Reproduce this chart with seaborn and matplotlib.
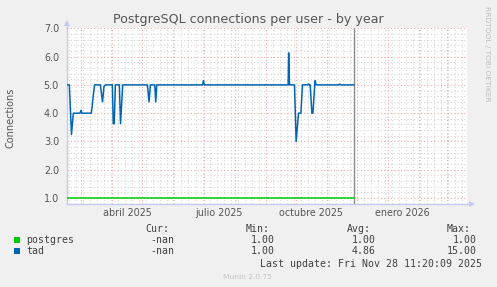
import matplotlib
matplotlib.use("Agg")
import matplotlib.pyplot as plt
import matplotlib.dates as mdates
import matplotlib.transforms as mtransforms
from matplotlib.patches import Rectangle
from matplotlib.ticker import MultipleLocator, FixedLocator, NullFormatter
import seaborn as sns
import pandas as pd

# ---------------- data ----------------
tad_dates = [
    "2025-02-14 07:00", "2025-02-16 22:00", "2025-02-19 02:00", "2025-02-20 22:00",
    "2025-02-27 14:00", "2025-02-28 14:00", "2025-03-01 14:00", "2025-03-10 22:00",
    "2025-03-14 02:00", "2025-03-19 22:00", "2025-03-22 02:00", "2025-03-23 14:00",
    "2025-03-25 02:00", "2025-03-31 22:00", "2025-04-01 19:00", "2025-04-02 19:00",
    "2025-04-03 22:00", "2025-04-07 22:00", "2025-04-09 02:00", "2025-04-11 07:00",
    "2025-05-05 22:00", "2025-05-07 14:00", "2025-05-08 22:00", "2025-05-13 07:00",
    "2025-05-14 07:00", "2025-05-15 07:00", "2025-06-30 02:00", "2025-06-30 22:00",
    "2025-07-01 19:00", "2025-09-23 14:00", "2025-09-24 02:00", "2025-09-24 22:00",
    "2025-09-29 22:00", "2025-10-01 14:00", "2025-10-03 22:00", "2025-10-06 07:00",
    "2025-10-07 22:00", "2025-10-13 02:00", "2025-10-13 22:00", "2025-10-14 19:00",
    "2025-10-15 14:00", "2025-10-17 07:00", "2025-10-18 07:00", "2025-10-20 10:00",
    "2025-10-21 14:00", "2025-11-13 02:00", "2025-11-13 22:00", "2025-11-14 19:00",
    "2025-11-28 11:00",
]
tad_values = [
    5.0, 5.0, 3.25, 4.0,
    4.0, 4.1, 4.0, 4.0,
    5.0, 5.0, 4.4, 4.95,
    5.0, 5.0, 3.63, 3.63,
    5.0, 5.0, 3.63, 5.0,
    5.0, 4.4, 5.0, 5.0,
    4.4, 5.0, 5.0, 5.15,
    5.0, 5.0, 6.13, 5.0,
    5.0, 3.0, 4.0, 4.0,
    5.0, 5.0, 5.03, 5.0,
    5.0, 4.0, 4.0, 5.15,
    5.0, 5.0, 5.03, 5.0,
    5.0,
]
postgres_dates = ["2025-02-14 07:00", "2025-11-28 11:00"]
postgres_values = [1.0, 1.0]

users = ["postgres", "tad"]
user_colors = ["#00cc00", "#0066b3"]
cur_vals = ["-nan", "-nan"]
min_vals = ["1.00", "1.00"]
avg_vals = ["1.00", "4.86"]
max_vals = ["1.00", "15.00"]

x_start = "2025-02-14 07:00"
x_end = "2026-03-21 07:00"
now_time = "2025-11-28 11:20:09"
month_labels = ["abril 2025", "julio 2025", "octubre 2025", "enero 2026"]
month_label_dates = ["2025-04-16", "2025-07-16", "2025-10-16", "2026-01-16"]
y_major = [1.0, 2.0, 3.0, 4.0, 5.0, 6.0, 7.0]
y_min, y_max = 0.79, 7.0

title = "PostgreSQL connections per user - by year"
y_label = "Connections"
last_update = "Last update: Fri Nov 28 11:20:09 2025"
footer = "Munin 2.0.75"
side_text = "RRDTOOL / TOBI OETIKER"

# ---------------- figure ----------------
sns.set_style("white")
plt.rcParams["font.family"] = ["DejaVu Sans"]

W, H = 497, 287
fig = plt.figure(figsize=(W / 100, H / 100), dpi=100, facecolor="#f0f0f0")
px = lambda x: x / W
py = lambda y: 1 - y / H

L, R, T, B = 66.7, 467.0, 28.3, 204.0
ax = fig.add_axes([px(L), py(B), px(R) - px(L), py(T) - py(B)])
ax.set_facecolor("white")

df = pd.concat([
    pd.DataFrame({"date": pd.to_datetime(postgres_dates), "connections": postgres_values, "user": users[0]}),
    pd.DataFrame({"date": pd.to_datetime(tad_dates), "connections": tad_values, "user": users[1]}),
], ignore_index=True)

sns.lineplot(data=df, x="date", y="connections", hue="user", hue_order=users,
             palette=dict(zip(users, user_colors)), estimator=None, sort=False,
             linewidth=1.1, legend=False, ax=ax, zorder=5)

ax.axvline(pd.Timestamp(now_time), color="#8a8a8a", lw=1.0, zorder=4)

ax.set_xlim(pd.Timestamp(x_start), pd.Timestamp(x_end))
ax.set_ylim(y_min, y_max)

# grids
major_c = "#eeaaaa"
minor_c = "#d6d6d6"
dot = (0, (1, 2))
ax.xaxis.set_major_locator(mdates.MonthLocator())
ax.xaxis.set_minor_locator(mdates.WeekdayLocator(byweekday=mdates.MO))
ax.xaxis.set_major_formatter(NullFormatter())
ax.yaxis.set_major_locator(FixedLocator(y_major))
ax.yaxis.set_minor_locator(MultipleLocator(0.2))
ax.set_yticklabels([f"{v:.1f}" for v in y_major])
ax.grid(which="minor", color=minor_c, linestyle=dot, lw=0.8, zorder=1)
ax.grid(which="major", color=major_c, linestyle=dot, lw=0.8, zorder=2)
ax.set_axisbelow(True)

ax.tick_params(axis="both", which="major", direction="inout", length=5, width=0.8,
               color="#ee9999", labelsize=6.9, labelcolor="#555555")
ax.tick_params(axis="both", which="minor", direction="inout", length=3, width=0.7,
               color="#cccccc")
ax.tick_params(axis="y", which="major", pad=3)
ax.set_xlabel("")
ax.set_ylabel("")

for s in ["top", "right"]:
    ax.spines[s].set_visible(False)
for s in ["left", "bottom"]:
    ax.spines[s].set_color("#c8c8f4")
    ax.spines[s].set_linewidth(1.0)
    ax.spines[s].set_zorder(3)

# axis arrows
ax.plot([0, 0], [1.0, 1.03], color="#c8c8f4", lw=1, transform=ax.transAxes, clip_on=False)
ax.plot([0], [1.03], marker="^", ms=5, color="#c8c8f4", transform=ax.transAxes,
        clip_on=False, zorder=3, markeredgewidth=0)
ax.plot([1.0, 1.012], [0, 0], color="#c8c8f4", lw=1, transform=ax.transAxes, clip_on=False)
ax.plot([1.012], [0], marker=">", ms=5, color="#c8c8f4", transform=ax.transAxes,
        clip_on=False, zorder=3, markeredgewidth=0)

# month labels (centered mid-month)
lab_tr = mtransforms.blended_transform_factory(ax.transData, fig.transFigure)
for lab, d in zip(month_labels, month_label_dates):
    ax.text(mdates.date2num(pd.Timestamp(d)), py(216.0), lab, transform=lab_tr,
            ha="center", va="baseline", fontsize=6.9, color="#555555")

# title, labels
fig.text(0.5, py(22.6), title, ha="center", va="baseline", fontsize=9.1, color="#555555")
fig.text(px(10.5), py(117.5), y_label, rotation=90, ha="center", va="center",
         fontsize=7.0, color="#555555")
fig.text(px(487), py(53.5), side_text, rotation=270, ha="center", va="center",
         fontsize=5.4, color="#bdbdbd")

# legend block
mono = dict(family="DejaVu Sans Mono", fontsize=7.1, color="#404040", va="baseline")
fig.text(px(145), py(231.7), "Cur:", ha="left", **mono)
fig.text(px(246), py(231.7), "Min:", ha="left", **mono)
fig.text(px(346.7), py(231.7), "Avg:", ha="left", **mono)
fig.text(px(446.7), py(231.7), "Max:", ha="left", **mono)
row_base = [242.7, 254.3]
for i, u in enumerate(users):
    yb = row_base[i]
    fig.patches.append(Rectangle((px(14), py(yb)), px(6), 6 / H, transform=fig.transFigure,
                                 facecolor=user_colors[i], edgecolor="none"))
    fig.text(px(26), py(yb), u, ha="left", **mono)
    fig.text(px(174), py(yb), cur_vals[i], ha="right", **mono)
    fig.text(px(275), py(yb), min_vals[i], ha="right", **mono)
    fig.text(px(376), py(yb), avg_vals[i], ha="right", **mono)
    fig.text(px(476.7), py(yb), max_vals[i], ha="right", **mono)
fig.text(px(482.3), py(266.7), last_update, ha="right", **mono)
fig.text(px(247.7), py(279), footer, ha="center", va="baseline", fontsize=5.4, color="#c4c4c4")

fig.savefig("out.png", dpi=100, facecolor=fig.get_facecolor())
